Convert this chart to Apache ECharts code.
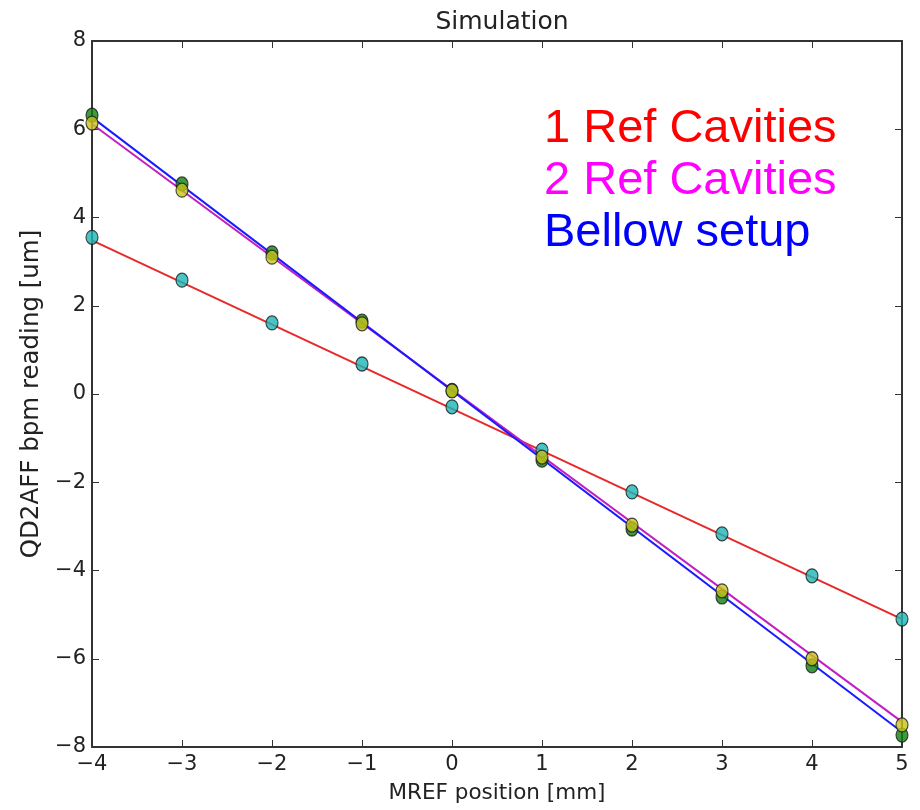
<!DOCTYPE html>
<html>
<head>
<meta charset="utf-8">
<title>Simulation</title>
<script src="https://cdn.jsdelivr.net/npm/echarts@6/dist/echarts.min.js"></script>
<style>
  html, body { margin: 0; padding: 0; background: #fff; }
  #chart { width: 920px; height: 810px; }
</style>
</head>
<body>
<div id="chart"></div>
<script>
// MREF position [mm]
const positions = [-4, -3, -2, -1, 0, 1, 2, 3, 4, 5];

// QD2AFF bpm reading [um] for each setup
const oneRefCavities = [3.55, 2.58, 1.61, 0.68, -0.29, -1.27, -2.22, -3.17, -4.12, -5.10];
const twoRefCavities = [6.14, 4.62, 3.10, 1.59, 0.07, -1.43, -2.97, -4.46, -6.00, -7.50];
const bellowSetup    = [6.32, 4.76, 3.20, 1.65, 0.08, -1.50, -3.06, -4.60, -6.16, -7.73];

// Straight-line fits, given by their values at the ends of the range
const fitX        = [-4, 5];
const fitOneRef   = [3.48, -5.10];
const fitTwoRef   = [6.12, -7.43];
const fitBellow   = [6.27, -7.66];

const xTicks = { min: -4, max: 5, interval: 1 };
const yTicks = { min: -8, max: 8, interval: 2 };

const pairs = (xs, ys) => xs.map((x, i) => [x, ys[i]]);
const minus = v => String(v).replace('-', '\u2212');

const axisColor = '#333';
const tickFont = { fontFamily: 'DejaVu Sans', fontSize: 21, color: '#222' };

const chart = echarts.init(document.getElementById('chart'), null, { renderer: 'canvas' });

const lineSeries = (data, color) => ({
  type: 'line', data, symbol: 'none', silent: true, z: 2,
  lineStyle: { color, width: 2 }
});
const pointSeries = (data, color, z) => ({
  type: 'scatter', data, symbol: 'circle', symbolSize: [12, 14], z,
  itemStyle: { color, borderColor: '#1a1a1a', borderWidth: 1.2 }
});

chart.setOption({
  animation: false,
  backgroundColor: '#ffffff',
  title: {
    text: 'Simulation', left: 497, top: 5, textAlign: 'center',
    textStyle: { fontFamily: 'DejaVu Sans', fontSize: 25, fontWeight: 'normal', color: '#222' }
  },
  grid: { left: 92, right: 18, top: 41, bottom: 63, containLabel: false },
  xAxis: [
    {
      type: 'value', ...xTicks, position: 'bottom',
      name: 'MREF position [mm]', nameLocation: 'middle', nameGap: 35,
      nameTextStyle: { fontFamily: 'DejaVu Sans', fontSize: 21.5, color: '#222' },
      axisLine: { show: true, onZero: false, lineStyle: { color: axisColor, width: 2 } },
      axisTick: { show: true, inside: true, length: 7, lineStyle: { color: axisColor, width: 1 } },
      axisLabel: { ...tickFont, margin: 7, formatter: minus },
      splitLine: { show: false }
    },
    {
      type: 'value', ...xTicks, position: 'top',
      axisLine: { show: true, onZero: false, lineStyle: { color: axisColor, width: 2 } },
      axisTick: { show: true, inside: true, length: 7, lineStyle: { color: axisColor, width: 1 } },
      axisLabel: { show: false }, splitLine: { show: false }
    }
  ],
  yAxis: [
    {
      type: 'value', ...yTicks, position: 'left',
      name: 'QD2AFF bpm reading [um]', nameLocation: 'middle', nameGap: 46, nameRotate: 90,
      nameTextStyle: { fontFamily: 'DejaVu Sans', fontSize: 24.5, color: '#222' },
      axisLine: { show: true, onZero: false, lineStyle: { color: axisColor, width: 2 } },
      axisTick: { show: true, inside: true, length: 7, lineStyle: { color: axisColor, width: 1 } },
      axisLabel: { ...tickFont, margin: 6, formatter: minus },
      splitLine: { show: false }
    },
    {
      type: 'value', ...yTicks, position: 'right',
      axisLine: { show: true, onZero: false, lineStyle: { color: axisColor, width: 2 } },
      axisTick: { show: true, inside: true, length: 7, lineStyle: { color: axisColor, width: 1 } },
      axisLabel: { show: false }, splitLine: { show: false }
    }
  ],
  graphic: [
    { type: 'text', left: 544, top: 106, z: 10,
      style: { text: '1 Ref Cavities', fill: '#ff0000', font: '47px "Liberation Sans", Arial, sans-serif' } },
    { type: 'text', left: 544, top: 158, z: 10,
      style: { text: '2 Ref Cavities', fill: '#ff00ff', font: '47px "Liberation Sans", Arial, sans-serif' } },
    { type: 'text', left: 544, top: 210, z: 10,
      style: { text: 'Bellow setup', fill: '#0000ff', font: '47px "Liberation Sans", Arial, sans-serif' } }
  ],
  series: [
    lineSeries(pairs(fitX, fitOneRef), '#e8292a'),
    lineSeries(pairs(fitX, fitTwoRef), '#c21fc2'),
    lineSeries(pairs(fitX, fitBellow), '#1a1aff'),
    pointSeries(pairs(positions, bellowSetup), '#0f7f0f', 3),
    pointSeries(pairs(positions, oneRefCavities), '#1ab5b5', 4),
    pointSeries(pairs(positions, twoRefCavities), '#c8c41a', 5)
  ]
});
</script>
</body>
</html>
